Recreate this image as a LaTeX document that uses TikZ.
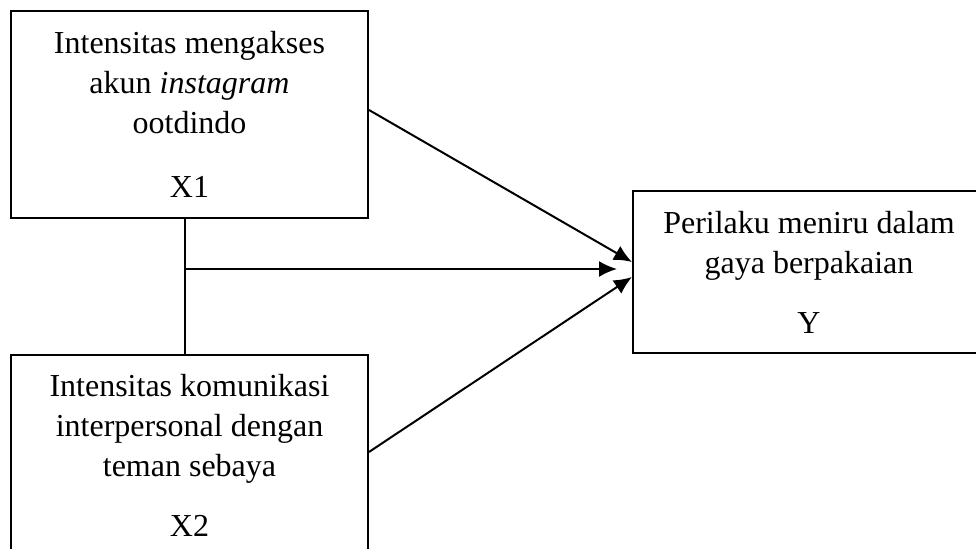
\documentclass[tikz,border=0pt]{standalone}
\usepackage{fontspec}
\setmainfont{Liberation Serif}
\usetikzlibrary{arrows.meta, positioning}

\begin{document}
\begin{tikzpicture}[x=0.5pt, y=-0.5pt, node distance=10pt,
    varbox/.style={draw, line width=1pt, align=center, minimum width=178.5pt, font=\fontsize{16}{20}\selectfont},
    arrow/.style={line width=1pt, -{Latex[length=9pt,width=8pt]}}]
    \useasboundingbox (0,0) rectangle (976,549);

    \node[varbox, minimum height=103.5pt, anchor=north west] (Var X1) at (10,10) {Intensitas mengakses\\akun \textit{instagram}\\ootdindo\\[12pt]X1};
    \node[varbox, minimum height=100pt, below=67.5pt of Var X1] (Var X2) {Intensitas komunikasi\\interpersonal dengan\\teman sebaya\\[10pt]X2};
    \node[varbox, minimum width=176pt, minimum height=81pt, anchor=north west] (Var Y) at (632,190) {Perilaku meniru dalam\\gaya berpakaian\\[10pt]Y};

    \coordinate (Split) at (185,269);
    \draw[line width=1pt] (Split |- Var X1.south) -- (Split |- Var X2.north);
    \draw[arrow] (Split) -- ([xshift=-7.5pt]Split -| Var Y.west);
    \draw[arrow] ([yshift=2.25pt]Var X1.east) -- ([yshift=5pt]Var Y.west);
    \draw[arrow] ([yshift=1.5pt]Var X2.east) -- ([yshift=-2.5pt]Var Y.west);
\end{tikzpicture}
\end{document}
